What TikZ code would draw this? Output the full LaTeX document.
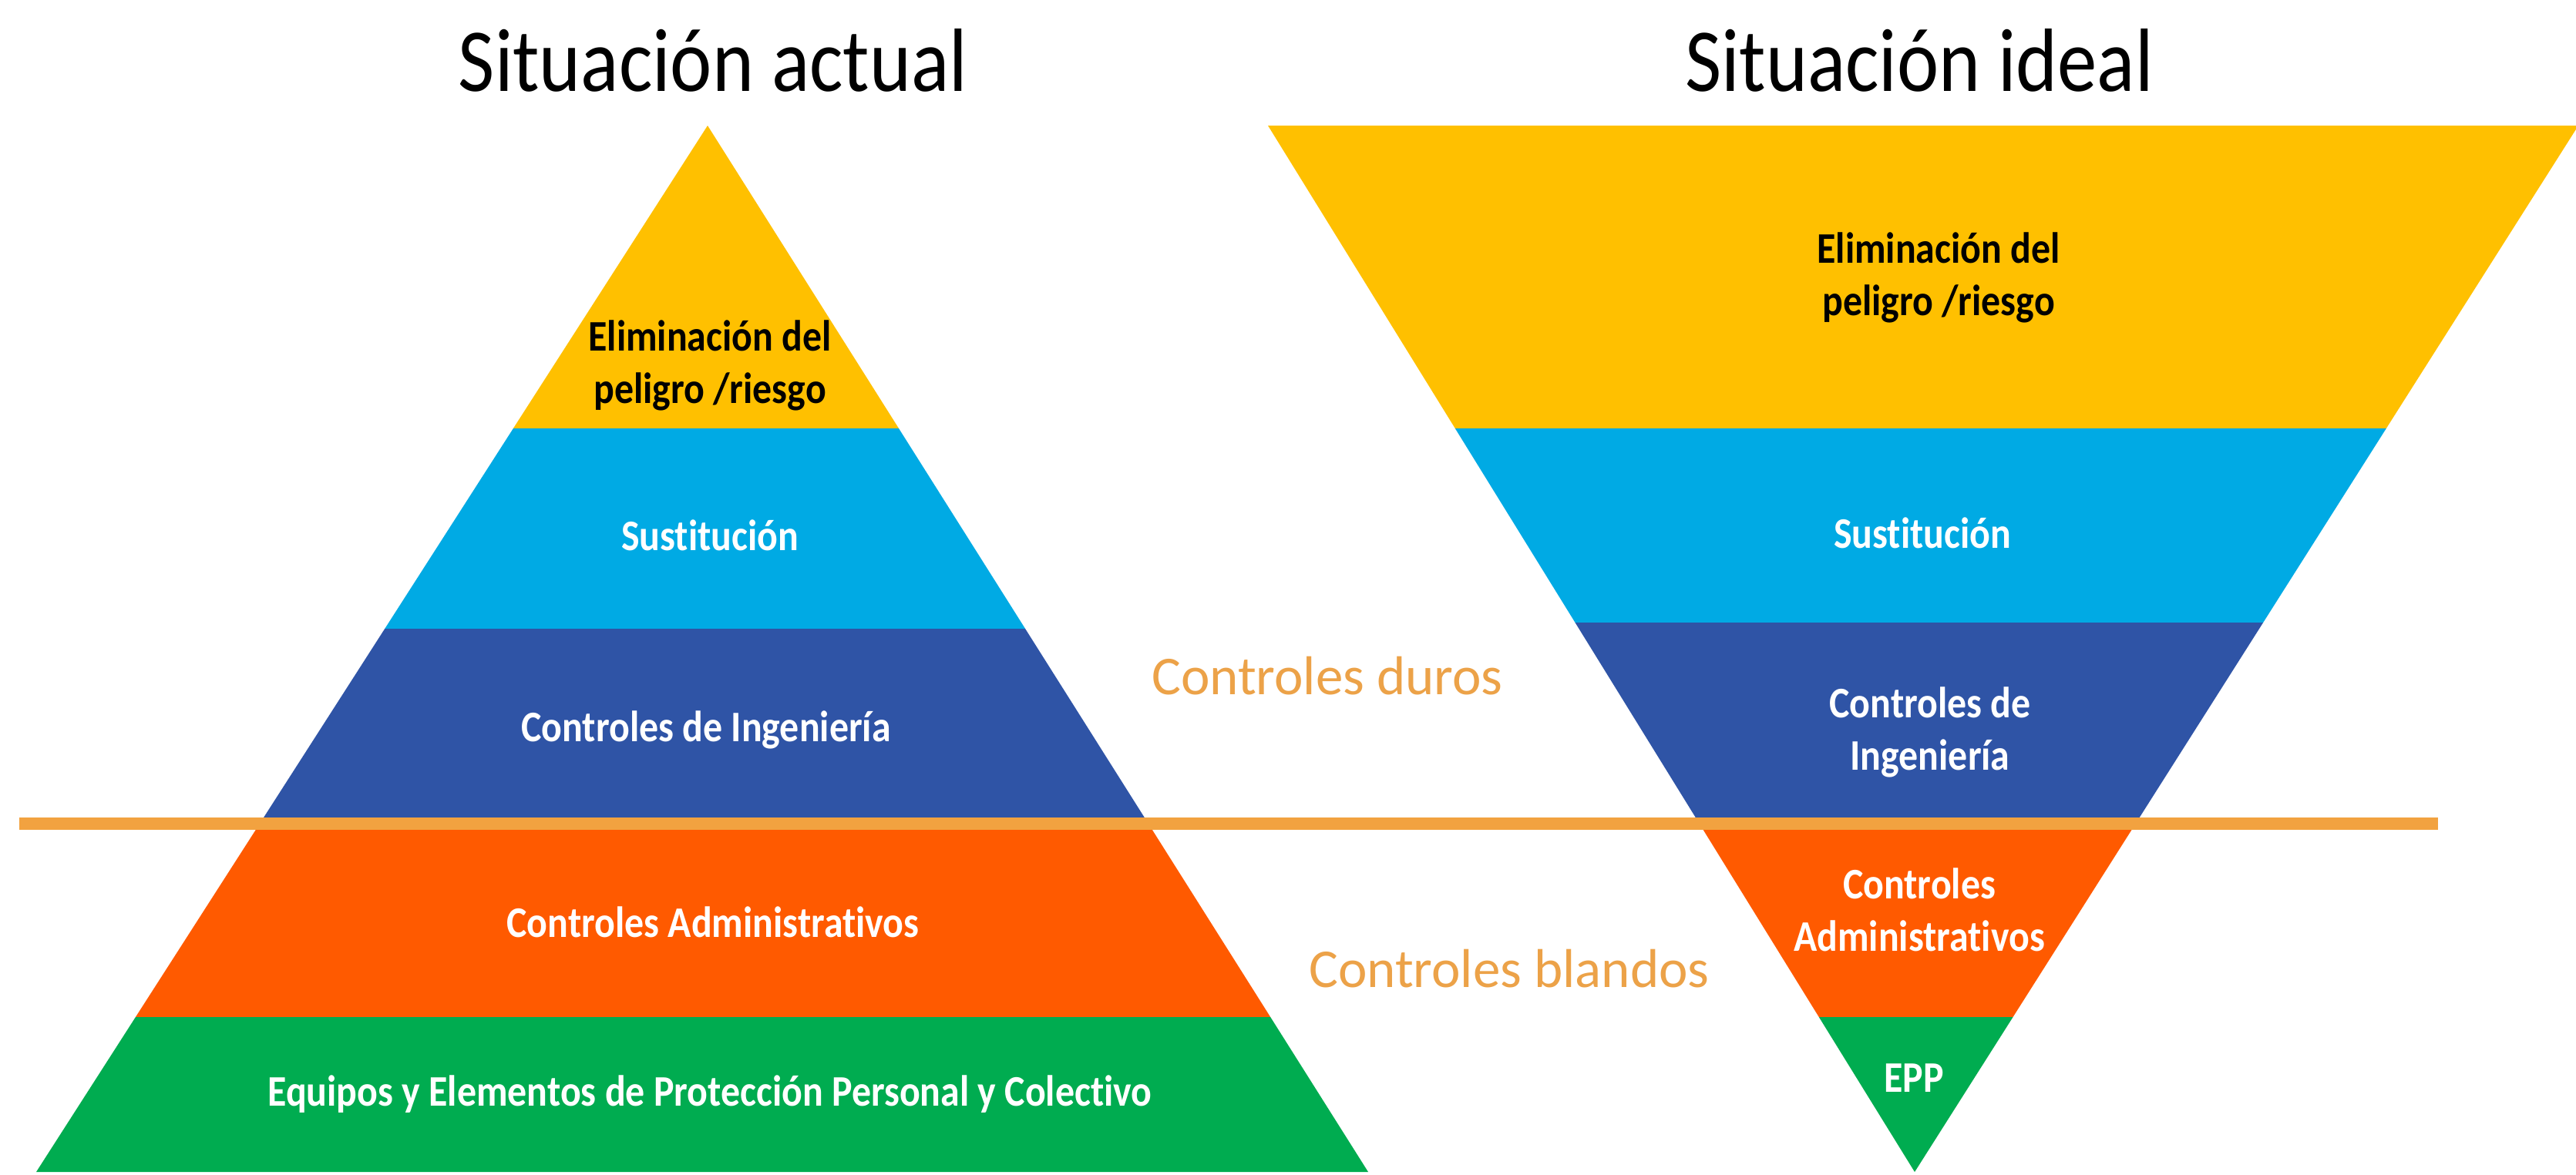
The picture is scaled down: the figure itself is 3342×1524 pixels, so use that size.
\documentclass[tikz,border=0pt]{standalone}
\usepackage{fontspec}
\setmainfont{Carlito}[Ligatures=NoCommon]
\newfontfamily\labfont{Carlito}[FakeStretch=0.88,Ligatures=NoCommon]
\newfontfamily\titfont{Carlito}[FakeStretch=0.88,Ligatures=NoCommon]
\definecolor{cyel}{RGB}{255,192,0}
\definecolor{clblue}{RGB}{0,170,228}
\definecolor{cdblue}{RGB}{47,84,166}
\definecolor{corange}{RGB}{255,90,0}
\definecolor{cgreen}{RGB}{0,172,80}
\definecolor{cline}{RGB}{242,162,64}
\definecolor{cside}{RGB}{236,162,72}
\begin{document}
\begin{tikzpicture}[x=0.3pt,y=-0.3pt,
  title/.style={font=\titfont\fontsize{35}{40}\selectfont, text=black, inner sep=0pt},
  lab/.style={font=\labfont\bfseries\fontsize{17}{20.4}\selectfont, text=white, align=center, inner sep=0pt},
  labdark/.style={lab, text=black},
  side/.style={font=\fontsize{21.3}{25}\selectfont, text=cside, inner sep=0pt}]
\useasboundingbox[fill=white] (0,0) rectangle (3342,1524);
% left pyramid
\fill[cyel] (918,163) -- (1166.0,556) -- (665.9,556) -- cycle;
\fill[clblue] (665.9,556) -- (1166.0,556) -- (1330.1,816) -- (499.2,816) -- cycle;
\fill[cdblue] (499.2,816) -- (1330.1,816) -- (1485.4,1062) -- (341.4,1062) -- cycle;
\fill[corange] (341.4,1062) -- (1485.4,1062) -- (1648.2,1320) -- (175.9,1320) -- cycle;
\fill[cgreen] (175.9,1320) -- (1648.2,1320) -- (1775,1521) -- (47,1521) -- cycle;
% right inverted pyramid
\fill[cyel] (1645,163) -- (3345,163) -- (3095.8,556) -- (1887.8,556) -- cycle;
\fill[clblue] (1887.8,556) -- (3095.8,556) -- (2936.1,808) -- (2043.5,808) -- cycle;
\fill[cdblue] (2043.5,808) -- (2936.1,808) -- (2775.0,1062) -- (2200.4,1062) -- cycle;
\fill[corange] (2200.4,1062) -- (2775.0,1062) -- (2611.5,1320) -- (2359.8,1320) -- cycle;
\fill[cgreen] (2359.8,1320) -- (2611.5,1320) -- (2484,1521) -- cycle;
% dividing line
\coordinate (lineL) at (25,1069);
\coordinate (lineR) at (3163,1069);
\draw[cline, line width=5pt] (lineL) -- (lineR);
% titles
\node[title] (t1) at (925,78) {Situación actual};
\node[title] (t2) at (2490,78) {Situación ideal};
% left labels
\node[labdark] (l1) at (921,474) {Eliminación del\\peligro /riesgo};
\node[lab] (l2) at (921,695) {Sustitución};
\node[lab] (l3) at (916,947) {Controles de Ingeniería};
\node[lab] (l4) at (925,1197) {Controles Administrativos};
\node[lab] (l5) at (921,1420) {Equipos y Elementos de Protección Personal y Colectivo};
% right labels
\node[labdark] (r1) at (2515,360) {Eliminación del\\peligro /riesgo};
\node[lab] (r2) at (2494,692) {Sustitución};
\node[lab] (r3) at (2504,950) {Controles de\\Ingeniería};
\node[lab] (r4) at (2490,1181) {Controles\\Administrativos};
\node[lab] (r5) at (2483,1399) {EPP};
% side labels
\node[side] (s1) at (1722,877) {Controles duros};
\node[side] (s2) at (1958,1257) {Controles blandos};
\end{tikzpicture}
\end{document}
